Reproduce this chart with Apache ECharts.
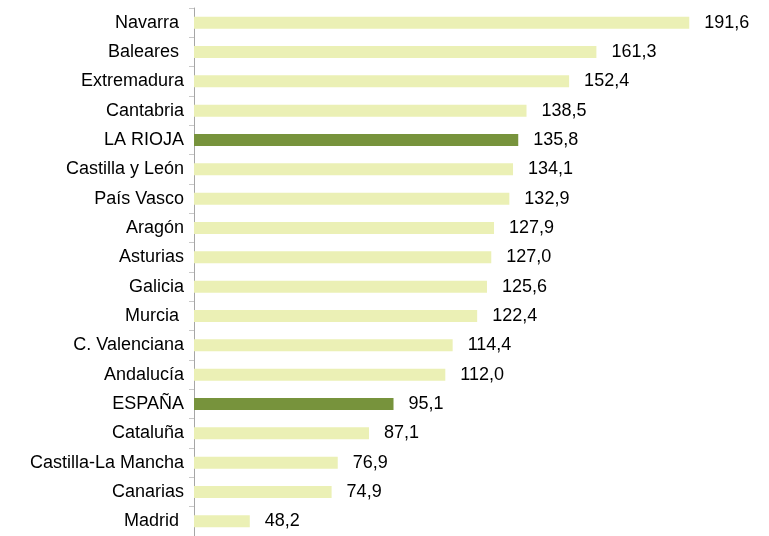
<!DOCTYPE html>
<html><head><meta charset="utf-8">
<script src="https://cdn.jsdelivr.net/npm/echarts@6/dist/echarts.min.js"></script>
<style>html,body{margin:0;padding:0;background:#fff}#c{width:769px;height:536px}</style>
</head><body><div id="c"></div>
<script>
const categories = ["Navarra ", "Baleares ", "Extremadura", "Cantabria", "LA RIOJA", "Castilla y León", "País Vasco", "Aragón", "Asturias", "Galicia", "Murcia ", "C. Valenciana", "Andalucía", "ESPAÑA", "Cataluña", "Castilla-La Mancha", "Canarias", "Madrid "];
const values = [191.6, 161.3, 152.4, 138.5, 135.8, 134.1, 132.9, 127.9, 127.0, 125.6, 122.4, 114.4, 112.0, 95.1, 87.1, 76.9, 74.9, 48.2];
const highlighted = ["LA RIOJA", "ESPAÑA"];

const chart = echarts.init(document.getElementById('c'));
chart.setOption({
  animation: false,
  grid: { left: 194, right: 54, top: 8, bottom: 0, containLabel: false },
  xAxis: { type: 'value', min: 30, max: 200, show: false },
  yAxis: {
    type: 'category', data: categories, inverse: true,
    axisLine: { show: true, lineStyle: { color: '#A6A6A6', width: 1 } },
    axisTick: { show: true, length: 5, lineStyle: { color: '#C8C8C8' } },
    axisLabel: { color: '#000', fontSize: 18, fontFamily: 'Liberation Sans, Arial, sans-serif', margin: 10 }
  },
  series: [{
    type: 'bar', barWidth: 12,
    data: values.map((v, i) => ({
      value: v,
      itemStyle: { color: highlighted.includes(categories[i].trim()) ? '#77933C' : '#EBF0B5' }
    })),
    label: {
      show: true, position: 'right', distance: 15, color: '#000', fontSize: 18,
      fontFamily: 'Liberation Sans, Arial, sans-serif',
      formatter: p => p.value.toFixed(1).replace('.', ',')
    }
  }]
});
</script></body></html>
